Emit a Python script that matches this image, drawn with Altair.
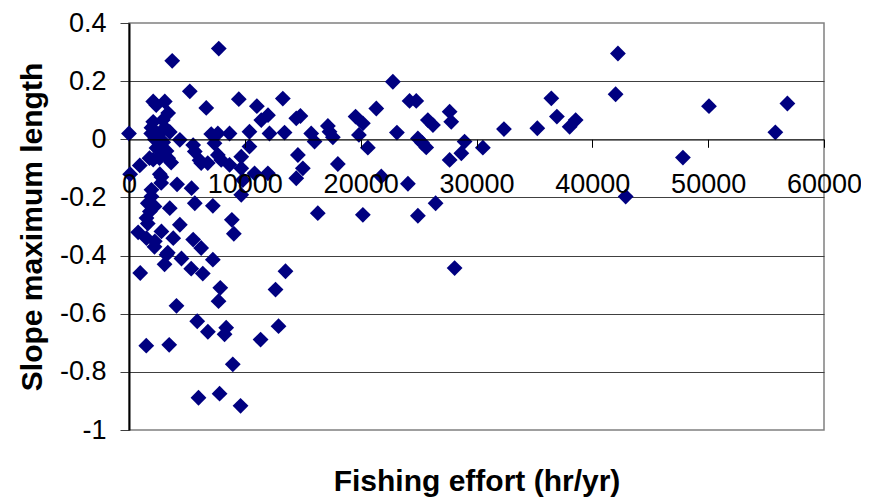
import altair as alt
import pandas as pd

# Fishing effort (hr/yr)
effort = [
    0, 100, 930, 970, 1490, 790,
    2090, 3090, 3380, 3730, 2090, 1940, 3090, 3520, 2520, 1920, 2230, 2950,
    2370, 3240, 2090, 3380, 3640, 2660, 2800, 2780, 4150, 1940, 1940, 1940,
    1800, 3520, 1510, 1620, 1510, 2230, 2200, 2800, 3820, 3240, 3070, 2920,
    2350, 1770, 2630, 2630, 2780, 1620, 2200, 3470, 3350,
    4390, 5250, 5540, 5680, 6090, 5400, 5680, 4390, 5540, 4530, 5370, 4100,
    5890, 6000, 6230, 6370, 6670,
    7750, 7100, 7670, 8680, 7380, 6230, 6800, 7670, 7960, 8680, 7240, 8880,
    9050, 7240, 7880, 7730, 6810, 8390, 8250, 8960, 7820, 9630, 9480, 9690,
    9690, 9690, 10400, 10400, 9830,
    11040, 11420, 12000, 13280, 14440, 14800, 12130, 13430, 10840, 11990,
    14580, 15010, 14440, 12650, 13510, 12910, 11360,
    15730, 16020, 17170, 17310, 17600, 19560, 20190, 19850, 20620, 21350,
    22780, 23130, 24220, 24800, 18030, 21780, 24080, 16300, 20190, 24940,
    26470, 28110, 25800, 26240, 24940, 25660, 25300, 27680, 27820, 28970,
    28690, 27680, 30550,
    32370, 35250, 36460, 36940, 38040, 38560, 42210, 42010, 42880, 47820,
    50070, 55800, 56840,
]

# Slope of maximum length for each point
slope = [
    0.02, -0.12, -0.09, -0.46, -0.71, -0.32,
    0.13, 0.13, 0.09, 0.27, 0.06, 0.04, 0.04, 0.025, 0.015, 0.02, 0.0, -0.01,
    -0.03, -0.04, -0.07, -0.065, -0.08, -0.12, -0.13, -0.15, -0.155, -0.174, -0.197, -0.225,
    -0.248, -0.237, -0.271, -0.29, -0.34, -0.351, -0.37, -0.317, -0.34, -0.397, -0.43, 0.066,
    0.118, -0.065, -0.065, -0.025, -0.002, -0.22, -0.231, -0.707, -0.39,
    -0.002, 0.165, -0.02, -0.042, -0.072, -0.168, -0.22, -0.294, -0.345, -0.41, -0.445, -0.573,
    -0.626, -0.889, -0.374, -0.462, 0.108,
    0.312, 0.018, 0.02, 0.02, -0.014, -0.082, -0.082, -0.054, -0.071, -0.088, -0.229, -0.277,
    -0.325, -0.414, -0.511, -0.557, -0.662, -0.648, -0.671, -0.774, -0.875, -0.917, 0.138, -0.06,
    -0.1, -0.191, 0.026, -0.025, -0.14,
    0.114, 0.066, 0.083, 0.14, 0.072, 0.08, 0.02, 0.023, -0.117, -0.117,
    -0.054, -0.1, -0.134, -0.517, -0.454, -0.643, -0.689,
    0.02, -0.008, 0.046, 0.026, 0.007, 0.078, 0.055, 0.015, -0.029, 0.106,
    0.198, 0.023, 0.132, 0.132, -0.085, -0.128, -0.153, -0.254, -0.26, -0.263,
    -0.22, -0.443, 0.066, 0.049, 0.003, -0.028, -0.012, 0.095, 0.06, -0.008,
    -0.048, -0.071, -0.029,
    0.035, 0.038, 0.141, 0.078, 0.043, 0.066, 0.295, 0.155, -0.197, -0.063,
    0.114, 0.024, 0.123,
]

x_ticks = [0, 10000, 20000, 30000, 40000, 50000, 60000]
y_ticks = [-1, -0.8, -0.6, -0.4, -0.2, 0, 0.2, 0.4]

df = pd.DataFrame({"effort": effort, "slope": slope})

W, H = 695, 407
FONT = "Liberation Sans"
zero_offset = -H * (1.0 / 1.4)

x_axis = alt.Axis(
    values=x_ticks,
    format="d",
    offset=zero_offset,
    grid=False,
    domainColor="black",
    domainWidth=1.2,
    tickColor="black",
    tickSize=8,
    tickWidth=1,
    labelFont=FONT,
    labelFontSize=27,
    labelColor="black",
    labelPadding=24,
    labelBaseline="top",
    labelFlush=False,
    labelOverlap=False,
    title="Fishing effort (hr/yr)",
    titleFont=FONT,
    titleFontSize=30,
    titleFontWeight="bold",
    titleColor="black",
    titleX=W / 2,
    titleY=351,
    titleBaseline="alphabetic",
    titleAlign="center",
    zindex=1,
)

y_axis = alt.Axis(
    values=y_ticks,
    labelExpr="(datum.value < 0 ? '-' : '') + format(abs(datum.value), '~g')",
    grid=True,
    gridColor="#404040",
    gridWidth=1,
    gridOpacity={"condition": {"test": "datum.value > 0.39 || datum.value < -0.99 || datum.value == 0", "value": 0}, "value": 1},
    domainColor="black",
    domainWidth=2,
    tickColor="#404040",
    tickSize=9,
    tickWidth=1,
    labelFont=FONT,
    labelFontSize=27,
    labelColor="black",
    labelPadding=14,
    labelFlush=False,
    labelOverlap=False,
    title="Slope maximum length",
    titleFont=FONT,
    titleFontSize=30,
    titleFontWeight="bold",
    titleColor="black",
    titleAngle=270,
    titleX=-88,
    titleY=H / 2,
    titleBaseline="alphabetic",
    titleAlign="center",
)

chart = (
    alt.Chart(df)
    .mark_point(shape="diamond", filled=True, size=250, color="#000080", opacity=1, strokeWidth=0)
    .encode(
        x=alt.X("effort:Q", scale=alt.Scale(domain=[0, 60000], nice=False, zero=False), axis=x_axis),
        y=alt.Y("slope:Q", scale=alt.Scale(domain=[-1, 0.4], nice=False, zero=False), axis=y_axis),
    )
    .properties(
        width=W,
        height=H,
        autosize=alt.AutoSizeParams(type="none"),
        padding={"left": 121, "top": 15, "right": 37, "bottom": 67},
        background="white",
    )
    .configure_view(stroke="#808080", strokeWidth=1.5)
)

chart.save("out.html", embed_options={"renderer": "svg", "actions": False})
